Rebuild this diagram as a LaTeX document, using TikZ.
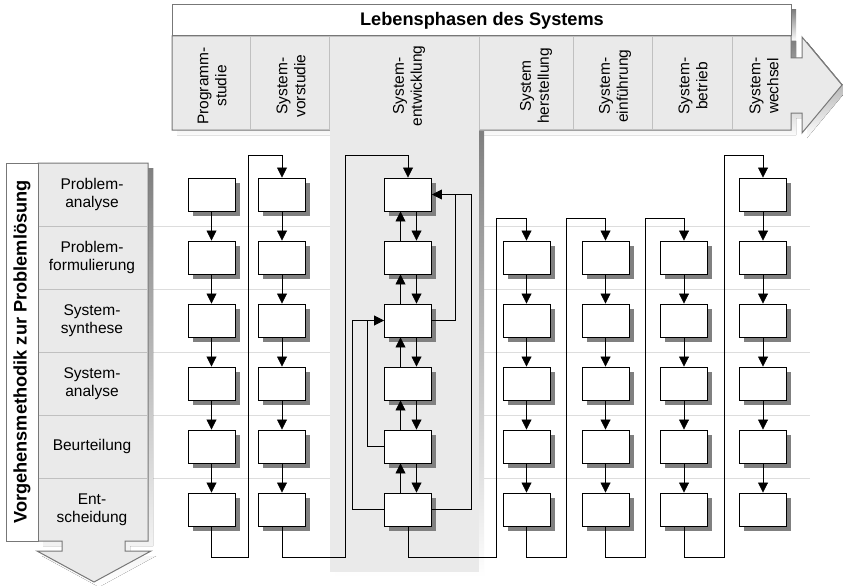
\documentclass[tikz,border=0pt]{standalone}
\usepackage{fontspec}
\setmainfont{Liberation Sans}
\usetikzlibrary{arrows.meta,shadows}

\definecolor{panel}{HTML}{EAEAEA}
\definecolor{shade}{HTML}{808080}
\definecolor{rim}{HTML}{777777}
\definecolor{sep}{HTML}{C0C0C0}
\definecolor{rowline}{HTML}{DDDDDD}

\begin{document}
\begin{tikzpicture}[x=1pt,y=-1pt,
  stepbox/.style={draw=black, line width=0.9pt, fill=white,
    minimum width=47pt, minimum height=33pt, inner sep=0pt,
    drop shadow={shadow xshift=4.5pt, shadow yshift=-4.5pt, fill=shade, opacity=1}},
  flow/.style={draw=black, line width=0.8pt},
  tip/.style={-{Triangle[width=10pt,length=10pt]}},
  lbl/.style={font=\fontsize{15.5}{18}\selectfont, align=center, inner sep=0pt},
  headline/.style={font=\bfseries\fontsize{18.2}{20}\selectfont, inner sep=0pt},
  outline/.style={draw=rim, line width=1pt}
]
\useasboundingbox (0,0) rectangle (843,586);
\fill[white] (0,0) rectangle (843,586);

% row guide lines
\foreach \y in {226,289,352,415,478}
  \draw[rowline, line width=0.8pt] (153,\y) -- (810,\y);

% shadows of the two big arrows
\begin{scope}[shift={(5,5)}]
  \fill[shade] (172,5) rectangle (791,36);
  \fill[shade] (172,36) -- (791,36) -- (791,58) -- (802,58) -- (802,37) -- (842,85)
    -- (802,133) -- (802,113) -- (791,113) -- (791,130) -- (172,130) -- cycle;
  \fill[shade] (6,163) rectangle (38,541);
  \fill[shade] (38,163) -- (148,163) -- (148,541) -- (125,541) -- (125,551) -- (151,551)
    -- (94,582) -- (37,551) -- (62,551) -- (62,541) -- (38,541) -- cycle;
\end{scope}

% life-cycle arrow (top)
\filldraw[outline, fill=panel] (172,36) -- (791,36) -- (791,58) -- (802,58) -- (802,37) -- (842,85)
  -- (802,133) -- (802,113) -- (791,113) -- (791,130) -- (172,130) -- cycle;
\filldraw[outline, fill=white] (172,5) rectangle (791,36);

% extension of the development phase
\fill[shade] (335,131) rectangle (484,577);
\fill[panel] (330,129.3) rectangle (479,572);

\foreach \x in {250,329,479,573,652,732}
  \draw[sep, line width=0.8pt] (\x,36.5) -- (\x,129.5);

% method arrow (left)
\filldraw[outline, fill=panel] (38,163) -- (148,163) -- (148,541) -- (125,541) -- (125,551) -- (151,551)
  -- (94,582) -- (37,551) -- (62,551) -- (62,541) -- (38,541) -- cycle;
\filldraw[outline, fill=white] (6,163) rectangle (38,541);
\foreach \y in {226,289,352,415,478}
  \draw[sep, line width=0.8pt] (38.5,\y) -- (147.5,\y);

% headings
\node[headline] (title) at (482,21) {Lebensphasen des Systems};
\node[headline, rotate=90] (method) at (22,352) {Vorgehensmethodik zur Problemlösung};

% phase labels
\node[lbl, rotate=90] (p1) at (212,86) {Programm-\\studie};
\node[lbl, rotate=90] (p2) at (291,86) {System-\\vorstudie};
\node[lbl, rotate=90] (p3) at (409,86) {System-\\entwicklung};
\node[lbl, rotate=90] (p4) at (536,86) {System\\herstellung};
\node[lbl, rotate=90] (p5) at (615,86) {System-\\einführung};
\node[lbl, rotate=90] (p6) at (693,86) {System-\\betrieb};
\node[lbl, rotate=90] (p7) at (764,86) {System-\\wechsel};

% step labels
\node[lbl] (s1) at (92,194.5) {Problem-\\analyse};
\node[lbl] (s2) at (92,257.5) {Problem-\\formulierung};
\node[lbl] (s3) at (92,320.5) {System-\\synthese};
\node[lbl] (s4) at (92,383.5) {System-\\analyse};
\node[lbl] (s5) at (92,446.5) {Beurteilung};
\node[lbl] (s6) at (92,509.5) {Ent-\\scheidung};

% step boxes
\foreach \c/\x/\first in {1/211.5/1, 2/282/1, 3/408/1, 4/526.5/2, 5/605.5/2, 6/684/2, 7/763/1}
  \foreach \r/\y in {1/194.5, 2/257.5, 3/320.5, 4/383.5, 5/446.5, 6/509.5} {
    \ifnum\r<\first\relax\else
      \node[stepbox] (b\c\r) at (\x,\y) {};
    \fi
  }

% straight sequences
\foreach \c/\first in {1/1, 2/1, 4/2, 5/2, 6/2, 7/1}
  \foreach \r in {1,...,5} {
    \pgfmathtruncatemacro{\s}{\r+1}
    \ifnum\r<\first\relax\else
      \draw[flow,tip] (b\c\r.south) -- (b\c\s.north);
    \fi
  }

% development phase: forward and backward steps
\foreach \r in {1,...,5} {
  \pgfmathtruncatemacro{\s}{\r+1}
  \draw[flow,tip] ([xshift=8.5pt]b3\r.south) -- ([xshift=8.5pt]b3\s.north);
  \draw[flow,tip] ([xshift=-7.5pt]b3\s.north) -- ([xshift=-7.5pt]b3\r.south);
}
\draw[flow,tip] (b33.east) -| ([xshift=23pt]b31.east) -- (b31.east);
\draw[flow] (b36.east) -| ([xshift=39pt]b31.east) -- ([xshift=23pt]b31.east);
\draw[flow,tip] (b35.west) -| ([xshift=-17pt]b33.west) -- (b33.west);
\draw[flow] (b36.west) -| ([xshift=-32pt]b33.west) -- ([xshift=-17pt]b33.west);

% hand-over between phases
\draw[flow,tip] (b16.south) -- ++(0,31) -| (248,155) -| (b21.north);
\draw[flow,tip] (b26.south) -- ++(0,31) -| (345,155) -| (b31.north);
\draw[flow,tip] (b36.south) -- ++(0,31) -| (496,218) -| (b42.north);
\draw[flow,tip] (b46.south) -- ++(0,31) -| (566,218) -| (b52.north);
\draw[flow,tip] (b56.south) -- ++(0,31) -| (645,218) -| (b62.north);
\draw[flow,tip] (b66.south) -- ++(0,31) -| (724,155) -| (b71.north);
\end{tikzpicture}
\end{document}
